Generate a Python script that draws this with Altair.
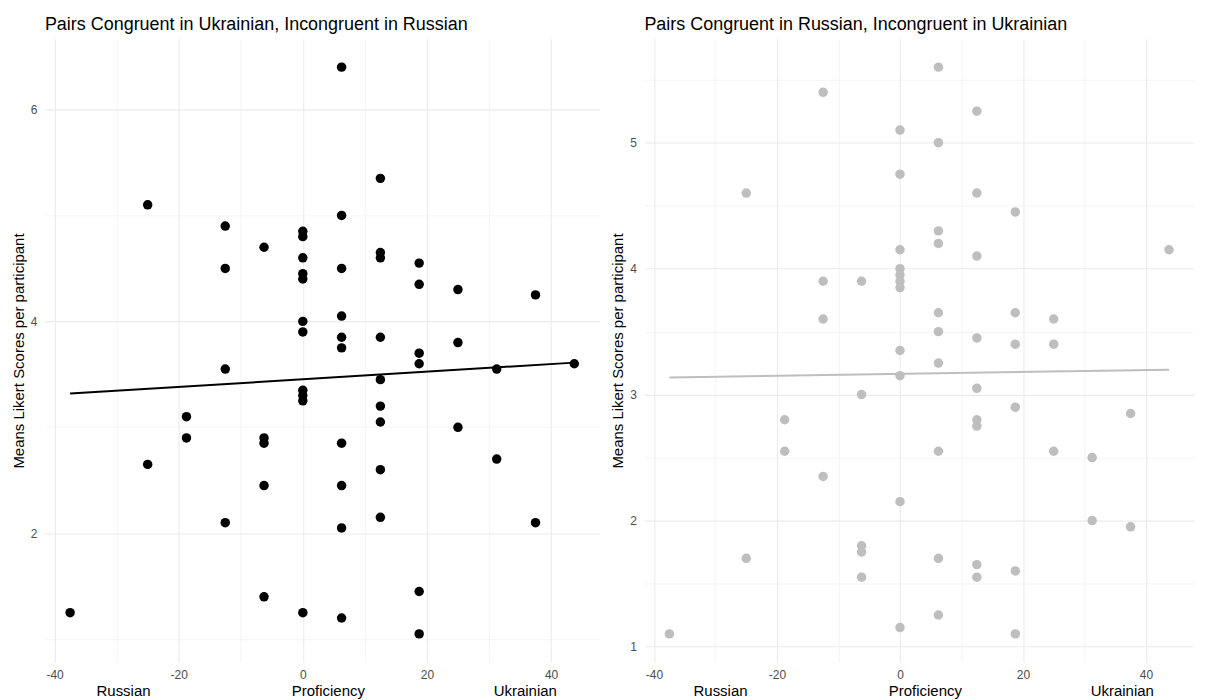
import altair as alt
import pandas as pd

# Panel 1: Pairs congruent in Ukrainian, incongruent in Russian
prof_ua = [6.25, -25, 12.5, 6.25, -12.5, 0, 0, -6.25, 0, 12.5, 12.5, 18.75, -12.5, 6.25,
           0, 0, 18.75, 25, 37.5, 0, 6.25, 0, 6.25, 12.5, 6.25, 25, 18.75, 18.75, 43.75,
           -12.5, 31.25, 12.5, 0, 0, 0, -18.75, 12.5, 12.5, 25, -18.75, -6.25, -6.25, 6.25,
           12.5, 31.25, -25, -6.25, 6.25, -12.5, 12.5, 37.5, 6.25, 18.75, -6.25, -37.5, 0,
           6.25, 18.75]
score_ua = [6.4, 5.1, 5.35, 5.0, 4.9, 4.85, 4.8, 4.7, 4.6, 4.65, 4.6, 4.55, 4.5, 4.5,
            4.45, 4.4, 4.35, 4.3, 4.25, 4.0, 4.05, 3.9, 3.85, 3.85, 3.75, 3.8, 3.7, 3.6, 3.6,
            3.55, 3.55, 3.45, 3.35, 3.3, 3.25, 3.1, 3.2, 3.05, 3.0, 2.9, 2.9, 2.85, 2.85,
            2.6, 2.7, 2.65, 2.45, 2.45, 2.1, 2.15, 2.1, 2.05, 1.45, 1.4, 1.25, 1.25,
            1.2, 1.05]

# Panel 2: Pairs congruent in Russian, incongruent in Ukrainian
prof_ru = [6.25, -12.5, 12.5, 0, 6.25, 0, -25, 12.5, 18.75, 6.25, 6.25, 0, 12.5, 43.75,
           0, 0, 0, 0, -12.5, -6.25, 6.25, 18.75, -12.5, 25, 6.25, 12.5, 18.75, 25, 0,
           6.25, 0, 12.5, -6.25, 18.75, 37.5, -18.75, 12.5, 12.5, -18.75, 6.25, 25, 31.25,
           -12.5, 0, 31.25, 37.5, -25, -6.25, -6.25, -6.25, 6.25, 12.5, 12.5, 18.75, 6.25,
           0, -37.5, 18.75]
score_ru = [5.6, 5.4, 5.25, 5.1, 5.0, 4.75, 4.6, 4.6, 4.45, 4.3, 4.2, 4.15, 4.1, 4.15,
            4.0, 3.95, 3.9, 3.85, 3.9, 3.9, 3.65, 3.65, 3.6, 3.6, 3.5, 3.45, 3.4, 3.4, 3.35,
            3.25, 3.15, 3.05, 3.0, 2.9, 2.85, 2.8, 2.8, 2.75, 2.55, 2.55, 2.55, 2.5,
            2.35, 2.15, 2.0, 1.95, 1.7, 1.8, 1.75, 1.55, 1.7, 1.65, 1.55, 1.6, 1.25,
            1.15, 1.1, 1.1]

titles = ["Pairs Congruent in Ukrainian, Incongruent in Russian",
          "Pairs Congruent in Russian, Incongruent in Ukrainian"]
y_title = "Means Likert Scores per participant"
NB = "\u00a0"
x_title = "Russian" + NB * 34 + "Proficiency" + NB * 31 + "Ukrainian"
x_ticks = [-40, -30, -20, -10, 0, 10, 20, 30, 40]

FONT = "Liberation Sans"
GRID = "#ebebeb"


def expand(vals):
    lo, hi = min(vals), max(vals)
    pad = 0.05 * (hi - lo)
    return [lo - pad, hi + pad]


def panel(xs, ys, color, title, y_ticks, major_test, width):
    df = pd.DataFrame({"p": xs, "s": ys})
    xenc = alt.X(
        "p:Q",
        scale=alt.Scale(domain=expand(xs), nice=False, zero=False),
        axis=alt.Axis(
            values=x_ticks,
            labelExpr="datum.value % 20 === 0 ? '' + datum.value : ''",
            title=x_title,
            titleX=width / 2 + 4,
            gridWidth={"condition": {"test": "datum.value % 20 === 0", "value": 1.1}, "value": 0.55},
            labelPadding=7,
            titlePadding=3,
        ),
    )
    yenc = alt.Y(
        "s:Q",
        scale=alt.Scale(domain=expand(ys), nice=False, zero=False),
        axis=alt.Axis(
            values=y_ticks,
            labelExpr=f"{major_test} ? '' + datum.value : ''",
            title=y_title,
            gridWidth={"condition": {"test": major_test, "value": 1.1}, "value": 0.55},
            labelPadding=8,
            titlePadding=4,
        ),
    )
    base = alt.Chart(df)
    pts = base.mark_circle(size=90, opacity=1, color=color).encode(x=xenc, y=yenc)
    line = (
        base.transform_regression("p", "s")
        .mark_line(color=color, strokeWidth=2)
        .encode(x="p:Q", y="s:Q")
    )
    return alt.layer(pts, line).properties(
        width=width,
        height=625,
        title=alt.TitleParams(
            text=title, anchor="start", frame="group", fontSize=18,
            fontWeight="normal", color="black", font=FONT, offset=5,
        ),
    )


left = panel(prof_ua, score_ua, "black", titles[0], [1, 2, 3, 4, 5, 6],
             "datum.value % 2 === 0", 556)
right = panel(prof_ru, score_ru, "#bebebe", titles[1],
              [1, 1.5, 2, 2.5, 3, 3.5, 4, 4.5, 5, 5.5], "datum.value % 1 === 0", 551)

chart = (
    alt.hconcat(left, right, spacing=11)
    .properties(padding={"left": 3, "top": 7, "right": 5, "bottom": 0}, background="white")
    .configure_view(stroke=None)
    .configure_axis(
        domain=False, ticks=False, gridColor=GRID,
        labelFont=FONT, labelFontSize=12, labelColor="#4d4d4d",
        titleFont=FONT, titleFontSize=15, titleFontWeight="normal", titleColor="black",
    )
)

chart.save("out.html", embed_options={"renderer": "svg", "actions": False})
